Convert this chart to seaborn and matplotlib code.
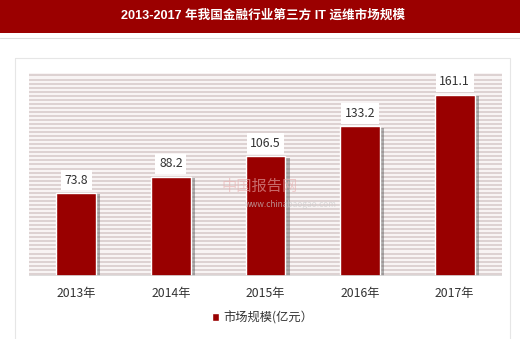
import matplotlib
matplotlib.use("Agg")
import matplotlib.pyplot as plt
import matplotlib.patheffects as pe
from matplotlib.patches import Rectangle
import seaborn as sns
import pandas as pd
import numpy as np

years = ["2013年", "2014年", "2015年", "2016年", "2017年"]
values = [73.8, 88.2, 106.5, 133.2, 161.1]
series_name = "市场规模(亿元）"
title = "2013-2017 年我国金融行业第三方 IT 运维市场规模"

sns.set_theme(style="white")
plt.rcParams['font.family'] = ['Noto Sans CJK SC', 'DejaVu Sans']

fig = plt.figure(figsize=(5.2, 3.39), dpi=100)
fig.patch.set_facecolor("white")

# Title banner
fig.patches.append(Rectangle((0, 1 - 33 / 339), 1, 33 / 339, transform=fig.transFigure,
                             facecolor="#9b0000", edgecolor="none", zorder=-2))
fig.text(0.506, 1 - 16 / 339, title, color="white", fontsize=9.05, fontweight="bold",
         ha="center", va="center", family=['Liberation Sans', 'Noto Sans CJK SC'])
fig.lines.append(plt.Line2D([0, 1], [1 - 38 / 339] * 2, transform=fig.transFigure,
                            color="#dddddd", lw=0.8, zorder=-2))

# Card
card = Rectangle((15 / 520, -0.02), 495 / 520, 1.02 - 58 / 339, transform=fig.transFigure,
                 facecolor="white", edgecolor="#e6e6e6", lw=0.8, zorder=-1,
                 path_effects=[pe.SimplePatchShadow(offset=(0, 0), shadow_rgbFace="#bbbbbb", alpha=0.6),
                               pe.Normal()])
fig.patches.append(card)

ax = fig.add_axes([29 / 520, 1 - 276 / 339, 473 / 520, 203 / 339])
ax.set_zorder(1)
ax.set_facecolor("#f8f4f4")
df = pd.DataFrame({"year": years, "value": values})
sns.barplot(data=df, x="year", y="value", color="#990000", saturation=1, width=0.42,
            ax=ax, zorder=3)
for p in ax.patches:
    p.set_path_effects([pe.SimplePatchShadow(offset=(3, -1), shadow_rgbFace="#555555", alpha=0.45),
                        pe.Normal()])

ax.set_ylim(0, 180.6)
ax.set_xlim(-0.5, 4.5)
for yv in np.arange(2, 180.6, 3.6):
    ax.axhline(yv, color="#d5c8c8", lw=1.1, zorder=1)

for i, v in enumerate(values):
    ax.text(i, v + 11.5, f"{v}", ha="center", va="center", fontsize=8.8, color="#333333",
            zorder=5, bbox=dict(boxstyle="square,pad=0.3", facecolor="white", edgecolor="none"))

for s in ax.spines.values():
    s.set_visible(False)
ax.axhline(0, color="#d9d9d9", lw=1.2, zorder=4)
ax.set_yticks([])
ax.set_xlabel("")
ax.set_ylabel("")
ax.tick_params(axis="x", length=0, pad=8, labelsize=8.8, colors="#333333")

# watermark
fig.text(0.5, 1 - 186 / 339, "中国报告网", color="#e8b0b0", fontsize=11, ha="center", va="center",
         alpha=0.6, zorder=6)
fig.text(0.56, 1 - 204 / 339, "www.chinabaogao.com", color="#cccccc", fontsize=6, ha="center",
         va="center", alpha=0.7, zorder=6)

# legend
handle = Rectangle((0, 0), 1, 1, facecolor="#990000")
fig.legend([handle], [series_name], loc="center", bbox_to_anchor=(0.505, 1 - 318 / 339),
           frameon=False, fontsize=8.8, handlelength=0.6, handleheight=0.6, handletextpad=0.3,
           labelcolor="#333333")

fig.savefig("out.png", dpi=100)
